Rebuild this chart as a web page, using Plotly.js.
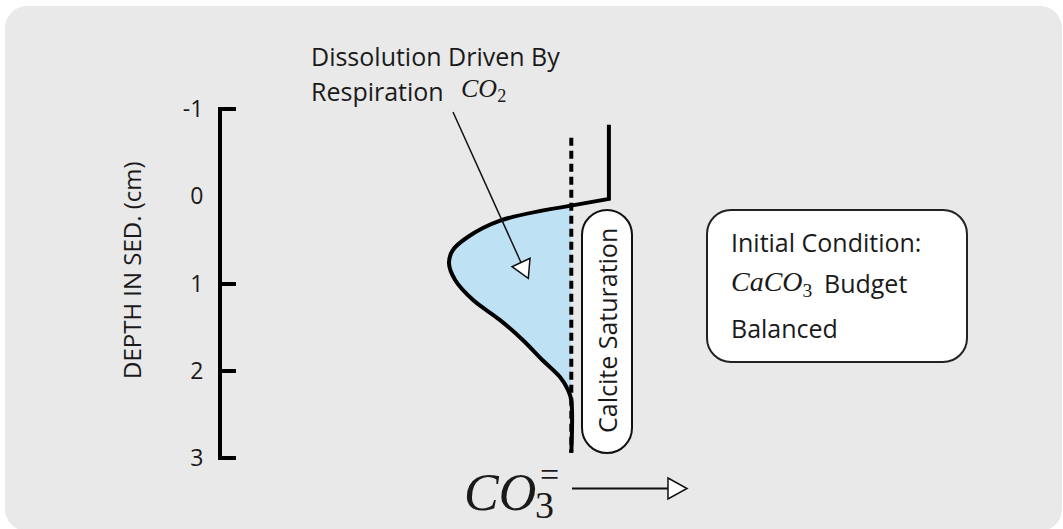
<!DOCTYPE html>
<html>
<head>
<meta charset="utf-8">
<script src="https://cdn.plot.ly/plotly-3.0.1.min.js"></script>
<style>html,body{margin:0;padding:0;background:#fff;}#chart{width:1063px;height:529px;}</style>
</head>
<body>
<div id="chart"></div>
<script>
// ---- data (CO3= concentration, arbitrary units, vs depth in sediment, cm) ----
const depthTicks = [-1, 0, 1, 2, 3];
const tickMarkDepths = [-1, 1, 2, 3];
const saturationCO3 = 42.7;
const saturationDepths = [-0.67, 2.94];
const waterDepths = [-0.82, 0.03, 0.11];
const waterCO3 = [47.3, 47.3, 42.5];
const profileDepths = [0.11, 0.28, 0.47, 0.62, 0.77, 0.96, 1.19, 1.42, 1.65, 1.88, 2.07, 2.22, 2.34, 2.94];
const profileCO3   = [42.5, 34.0, 30.0, 28.2, 27.75, 28.5, 30.7, 34.0, 36.8, 39.2, 41.3, 42.3, 42.7, 42.7];
const fillBaseDepths = [0.11, 2.94];

// ---- layout geometry ----
const W = 1063, H = 529, ML = 222, MR = 23, MT = 107, MB = 69;
const PW = W - ML - MR, PH = H - MT - MB;
const PAD = 2 / 87.25; // small range padding so the end ticks (-1, 3) are drawn
const px = x => (x - ML) / PW;
const py = y => (H - MB - y) / PH;
const P = (x, y) => px(x).toFixed(5) + ',' + py(y).toFixed(5);

function roundRect(x0, y0, x1, y1, r) {
  const k = 0.5523 * r;
  return 'M' + P(x0 + r, y0) + ' L' + P(x1 - r, y0) +
    ' C' + P(x1 - r + k, y0) + ' ' + P(x1, y0 + r - k) + ' ' + P(x1, y0 + r) +
    ' L' + P(x1, y1 - r) +
    ' C' + P(x1, y1 - r + k) + ' ' + P(x1 - r + k, y1) + ' ' + P(x1 - r, y1) +
    ' L' + P(x0 + r, y1) +
    ' C' + P(x0 + r - k, y1) + ' ' + P(x0, y1 - r + k) + ' ' + P(x0, y1 - r) +
    ' L' + P(x0, y0 + r) +
    ' C' + P(x0, y0 + r - k) + ' ' + P(x0 + r - k, y0) + ' ' + P(x0 + r, y0) + ' Z';
}
function tri(a, b, c) { return 'M' + P(a[0], a[1]) + ' L' + P(b[0], b[1]) + ' L' + P(c[0], c[1]) + ' Z'; }
function seg(x0, y0, x1, y1, w) {
  return { type: 'line', xref: 'paper', yref: 'paper', x0: px(x0), y0: py(y0), x1: px(x1), y1: py(y1),
    line: { color: '#111', width: w } };
}

const SANS = 'Open Sans, Noto Sans, sans-serif';
const SERIF = 'Liberation Serif, Times New Roman, serif';
const INK = '#1a1a1a';

const traces = [
  { x: fillBaseDepths.map(() => saturationCO3), y: fillBaseDepths,
    mode: 'lines', line: { width: 0, color: 'rgba(0,0,0,0)' }, hoverinfo: 'skip', showlegend: false },
  { x: profileCO3, y: profileDepths, mode: 'lines', fill: 'tonextx', fillcolor: '#bfe1f4',
    line: { color: '#000', width: 4, shape: 'spline', smoothing: 1 }, showlegend: false },
  { x: waterCO3, y: waterDepths, mode: 'lines', line: { color: '#000', width: 4 }, showlegend: false },
  { x: saturationDepths.map(() => saturationCO3), y: saturationDepths, mode: 'lines',
    line: { color: '#000', width: 4, dash: '8px,5px' }, showlegend: false },
  { x: [null], y: [null], yaxis: 'y2', mode: 'lines', showlegend: false, hoverinfo: 'skip' }
];

const shapes = [
  { type: 'path', xref: 'paper', yref: 'paper', layer: 'below', path: roundRect(5, 6, 1062, 531, 22),
    fillcolor: '#e9e9e9', line: { width: 0 } },
  { type: 'path', xref: 'paper', yref: 'paper', path: roundRect(582, 210, 632, 453, 25),
    fillcolor: '#fff', line: { color: '#111', width: 2 } },
  { type: 'path', xref: 'paper', yref: 'paper', path: roundRect(707, 210, 967, 362, 24),
    fillcolor: '#fff', line: { color: '#222', width: 2 } },
  seg(453, 112, 521, 262.5, 1.5),
  { type: 'path', xref: 'paper', yref: 'paper', path: tri([512, 266.7], [530, 258.3], [528.3, 278.3]),
    fillcolor: '#fff', line: { color: '#111', width: 1.5 } },
  seg(572, 488.5, 668, 488.5, 2),
  { type: 'path', xref: 'paper', yref: 'paper', path: tri([668, 478], [687, 488.5], [668, 499]),
    fillcolor: '#fff', line: { color: '#111', width: 1.5 } }
];

function ann(text, x, y, opts) {
  return Object.assign({ text: text, x: px(x), y: py(y), xref: 'paper', yref: 'paper', showarrow: false,
    xanchor: 'left', yanchor: 'middle', font: { family: SANS, size: 25, color: INK } }, opts || {});
}

const annotations = [
  ann('DEPTH IN SED. (cm)', 131, 270, { xanchor: 'center', textangle: -90, font: { family: SANS, size: 24, color: INK } }),
  ann('Dissolution Driven By', 309, 56),
  ann('Respiration', 309, 91),
  ann('<i>CO</i><sub>2</sub>', 459, 90, { font: { family: SERIF, size: 26, color: INK } }),
  ann('Calcite Saturation', 607, 331, { xanchor: 'center', textangle: -90 }),
  ann('Initial Condition:', 729, 242),
  ann('<i>CaCO</i><sub>3</sub>', 729, 283, { font: { family: SERIF, size: 28, color: INK } }),
  ann('Budget', 822, 283),
  ann('Balanced', 729, 328),
  ann('<i>CO</i>', 462, 492, { font: { family: SERIF, size: 52, color: INK } }),
  ann('3', 533, 528, { yanchor: 'bottom', font: { family: SERIF, size: 38, color: INK } }),
  ann('=', 538, 474, { font: { family: SERIF, size: 34, color: INK } })
];

const layout = {
  width: W, height: H,
  margin: { l: ML, r: MR, t: MT, b: MB, pad: 0 },
  paper_bgcolor: '#ffffff', plot_bgcolor: 'rgba(0,0,0,0)',
  showlegend: false,
  xaxis: { range: [0, 100], visible: false, fixedrange: true },
  yaxis: { range: [3 + PAD, -1 - PAD], tickvals: depthTicks, ticktext: depthTicks.map(String),
    showline: true, linecolor: '#000', linewidth: 4, ticks: '', showgrid: false, zeroline: false,
    ticklabelstandoff: 10, tickfont: { family: SANS, size: 23, color: INK }, fixedrange: true },
  yaxis2: { range: [3 + PAD, -1 - PAD], overlaying: 'y', anchor: 'x', side: 'left', tickvals: tickMarkDepths,
    ticks: 'inside', ticklen: 14, tickwidth: 4, tickcolor: '#000', showticklabels: false,
    showline: false, showgrid: false, zeroline: false, fixedrange: true },
  shapes: shapes,
  annotations: annotations
};

Plotly.newPlot('chart', traces, layout, { displayModeBar: false, staticPlot: true });
</script>
</body>
</html>
